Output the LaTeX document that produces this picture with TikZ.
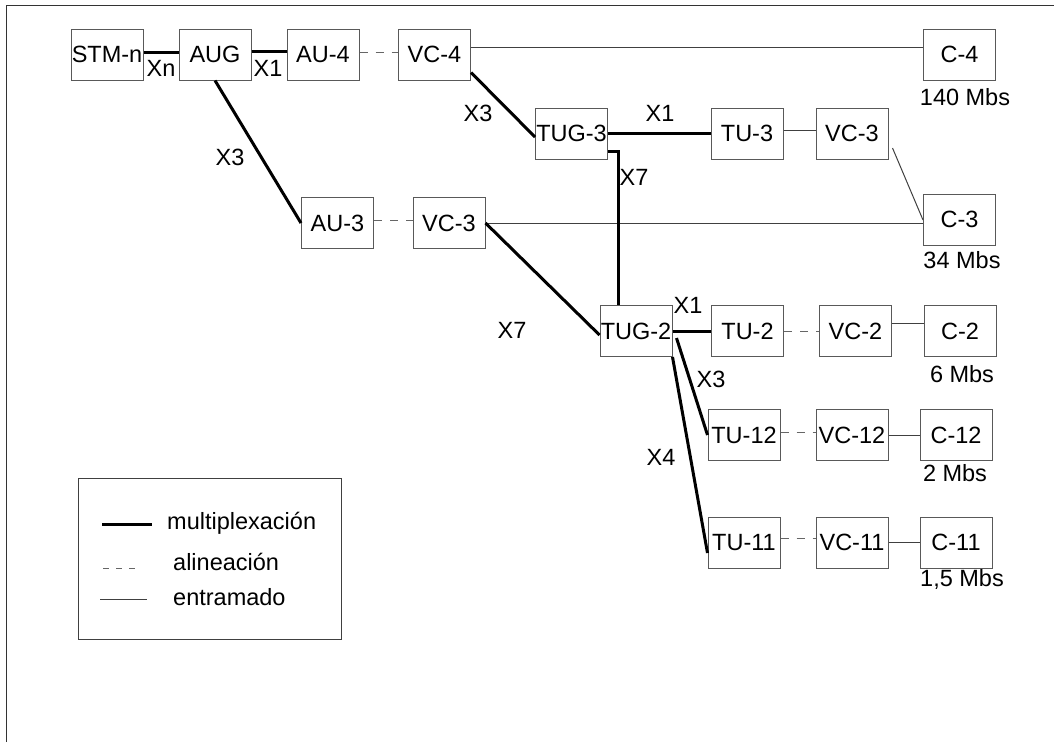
\documentclass[tikz,border=0pt]{standalone}
\usepackage{fontspec}
\setmainfont{Liberation Sans}
\begin{document}
\begin{tikzpicture}[x=1pt,y=-1pt,
  font=\fontsize{23.5}{27}\selectfont,
  box/.style={draw=black!65, line width=1pt, minimum width=72pt, minimum height=51pt, inner sep=0pt, text=black},
  mux/.style={line width=3pt, black},
  ali/.style={line width=1pt, black!60, dash pattern=on 8pt off 8pt},
  fra/.style={line width=1pt, black!75},
  lab/.style={inner sep=0pt, text=black}
]
\useasboundingbox (0,0) rectangle (1054,742);
% frame
\draw[line width=1pt, black!80] (6,742) -- (6,5) -- (1054,5);

% boxes
\node[box] (stm) at (107,54.5) {STM-n};
\node[box] (aug) at (215,54.5) {AUG};
\node[box] (au4) at (323,54.5) {AU-4};
\node[box] (vc4) at (434.5,54.5) {VC-4};
\node[box] (c4) at (959.5,54.5) {C-4};
\node[box] (tug3) at (571.5,133.5) {TUG-3};
\node[box] (tu3) at (747,133.5) {TU-3};
\node[box] (vc3a) at (852,133.5) {VC-3};
\node[box] (au3) at (337.5,223) {AU-3};
\node[box] (vc3b) at (449,223) {VC-3};
\node[box] (c3) at (959.5,219.5) {C-3};
\node[box] (tug2) at (636,331) {TUG-2};
\node[box] (tu2) at (747.5,331) {TU-2};
\node[box] (vc2) at (855.5,331) {VC-2};
\node[box] (c2) at (960,331) {C-2};
\node[box] (tu12) at (744,435) {TU-12};
\node[box] (vc12) at (852,435) {VC-12};
\node[box] (c12) at (956,435) {C-12};
\node[box] (tu11) at (744,542.5) {TU-11};
\node[box] (vc11) at (852,542.5) {VC-11};
\node[box] (c11) at (956,542.5) {C-11};

% connectors
\draw[mux] ([yshift=2.5pt]stm.east) -- ([yshift=2.5pt]aug.west);
\draw[mux] ([yshift=3.5pt]aug.east) -- ([yshift=3.5pt]au4.west);
\draw[ali] ([yshift=2.5pt]au4.east) -- ([yshift=2.5pt]vc4.west);
\draw[fra] ([yshift=7.5pt]vc4.east) -- ([yshift=7.5pt]c4.west);
\draw[mux] ([yshift=8pt]vc4.south east) -- ([yshift=-3.5pt]tug3.west);
\draw[mux] (aug.south) -- (au3.west);
\draw[ali] ([yshift=3pt]au3.east) -- ([yshift=3pt]vc3b.west);
\draw[fra] (vc3b.east) -- (vc3b.east -| c3.west);
\draw[mux] (vc3b.east) -- ([yshift=-4pt]tug2.west);
\draw[mux] (tug3.east) -- (tu3.west);
\draw[fra] ([yshift=3.5pt]tu3.east) -- ([yshift=3.5pt]vc3a.west);
\draw[fra] ([xshift=4pt,yshift=-14.5pt]vc3a.east) -- ([yshift=-0.5pt]c3.west);
\draw[mux] ([yshift=-17.5pt]tug3.east) -| ([xshift=-18pt]tug2.north);
\draw[mux] (tug2.east) -- (tu2.west);
\draw[ali] (tu2.east) -- (vc2.west);
\draw[fra] ([yshift=8pt]vc2.east) -- ([yshift=8pt]c2.west);
\draw[mux] ([xshift=4pt,yshift=-7pt]tug2.east) -- (tu12.west);
\draw[mux] (tug2.south east) -- ([yshift=-10.5pt]tu11.west);
\draw[ali] ([yshift=3pt]tu12.east) -- ([yshift=3pt]vc12.west);
\draw[fra] (vc12.east) -- (c12.west);
\draw[ali] ([yshift=4.5pt]tu11.east) -- ([yshift=4.5pt]vc11.west);
\draw[fra] (vc11.east) -- (c11.west);

% multiplicity labels
\node[lab] (lxn) at (161,68) {Xn};
\node[lab] (lx1a) at (268,68) {X1};
\node[lab] (lx3a) at (478,113) {X3};
\node[lab] (lx3b) at (230,157) {X3};
\node[lab] (lx1b) at (660,113) {X1};
\node[lab] (lx7a) at (634,177) {X7};
\node[lab] (lx7b) at (512,330) {X7};
\node[lab] (lx1c) at (688,305) {X1};
\node[lab] (lx3c) at (711,379) {X3};
\node[lab] (lx4) at (661,457) {X4};

% rates
\node[lab] (r4) at (965,97) {140 Mbs};
\node[lab] (r3) at (962,260) {34 Mbs};
\node[lab] (r2) at (962,374) {6 Mbs};
\node[lab] (r12) at (955,473) {2 Mbs};
\node[lab] (r11) at (962,579) {1,5 Mbs};

% legend
\draw[line width=1pt, black!75] (78,478) rectangle (341,639);
\draw[mux] (102,524) -- (152,524);
\node[lab, anchor=west] (lg1) at (167,523) {multiplexación};
\draw[ali, dash pattern=on 6pt off 7pt] (103,568) -- (142,568);
\node[lab, anchor=west] (lg2) at (173,562) {alineación};
\draw[fra] (100,599) -- (147,599);
\node[lab, anchor=west] (lg3) at (173,597) {entramado};
\end{tikzpicture}
\end{document}
